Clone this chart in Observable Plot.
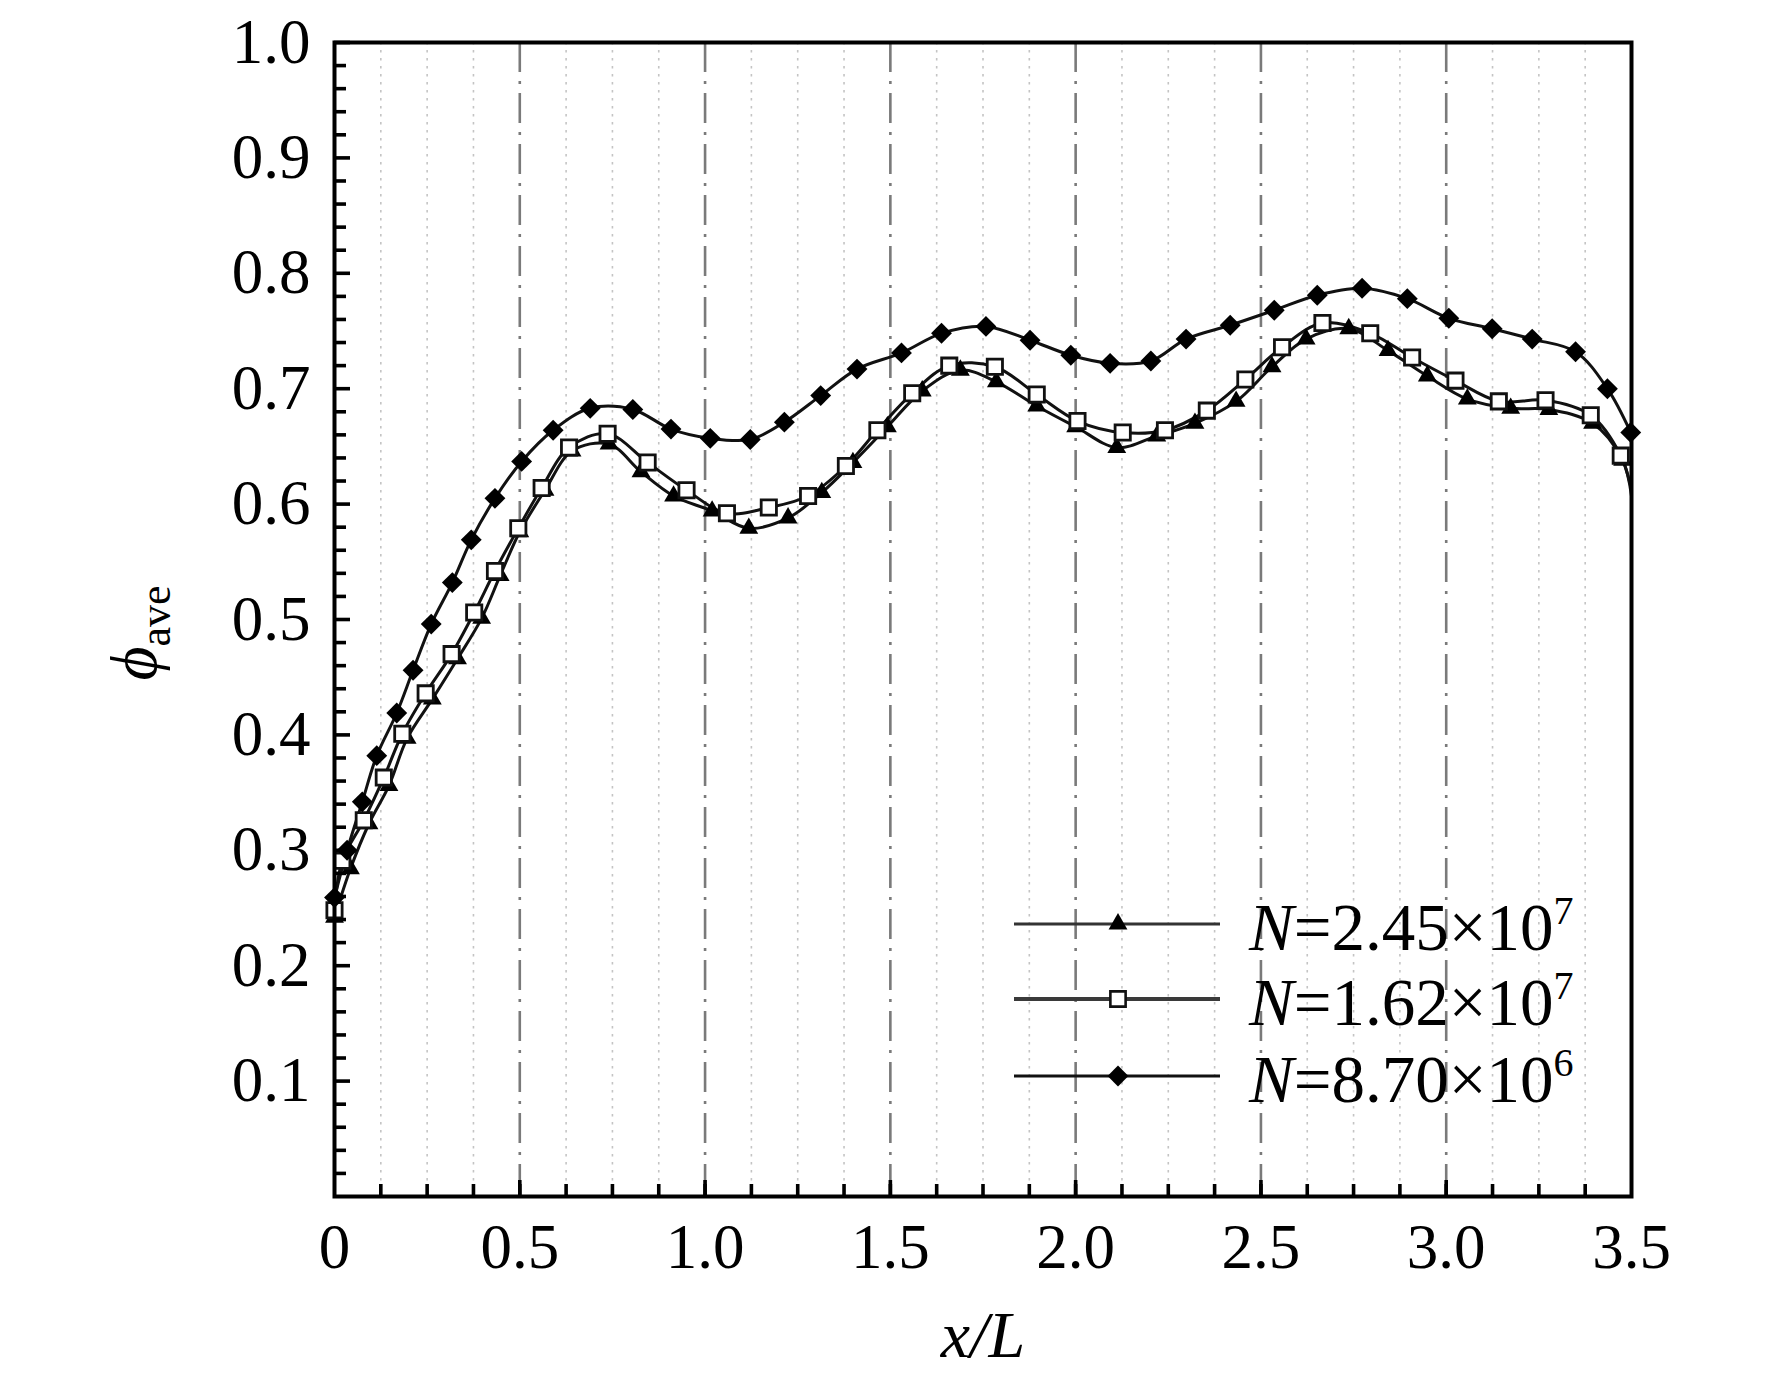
<!DOCTYPE html>
<html>
<head>
<meta charset="utf-8">
<script src="https://cdn.jsdelivr.net/npm/d3@7"></script>
<script src="https://cdn.jsdelivr.net/npm/@observablehq/plot@0.6"></script>
<style>
  html, body { margin: 0; padding: 0; background: #fff; }
  #chart svg { display: block; }
</style>
</head>
<body>
<div id="chart"></div>
<script>
// ---- data ----
const seriesNames = ["N=2.45×10^7", "N=1.62×10^7", "N=8.70×10^6"];

const triX = [0.000, 0.043, 0.093, 0.147, 0.196, 0.264, 0.332, 0.397, 0.447, 0.500, 0.568, 0.641, 0.741, 0.827, 0.915, 1.019, 1.118, 1.224, 1.315, 1.399, 1.492, 1.586, 1.689, 1.786, 1.895, 2.000, 2.111, 2.219, 2.322, 2.433, 2.530, 2.622, 2.737, 2.843, 2.949, 3.057, 3.174, 3.277, 3.395, 3.476];
const triY = [0.242, 0.284, 0.323, 0.356, 0.397, 0.431, 0.466, 0.501, 0.538, 0.576, 0.612, 0.646, 0.652, 0.628, 0.607, 0.594, 0.579, 0.588, 0.610, 0.636, 0.667, 0.698, 0.716, 0.706, 0.685, 0.667, 0.649, 0.659, 0.670, 0.689, 0.719, 0.743, 0.752, 0.733, 0.711, 0.691, 0.683, 0.682, 0.670, 0.638];

const sqX = [0.000, 0.021, 0.079, 0.133, 0.183, 0.246, 0.316, 0.377, 0.433, 0.496, 0.559, 0.633, 0.737, 0.845, 0.950, 1.059, 1.172, 1.278, 1.380, 1.465, 1.559, 1.659, 1.782, 1.895, 2.005, 2.127, 2.241, 2.354, 2.458, 2.557, 2.666, 2.795, 2.908, 3.025, 3.142, 3.268, 3.390, 3.471];
const sqY = [0.248, 0.291, 0.326, 0.363, 0.401, 0.436, 0.470, 0.506, 0.542, 0.579, 0.614, 0.649, 0.661, 0.636, 0.612, 0.592, 0.597, 0.607, 0.633, 0.664, 0.696, 0.720, 0.719, 0.695, 0.672, 0.662, 0.664, 0.681, 0.708, 0.736, 0.757, 0.748, 0.727, 0.707, 0.689, 0.690, 0.677, 0.642];

const diaX = [0.000, 0.034, 0.075, 0.114, 0.168, 0.212, 0.261, 0.318, 0.369, 0.433, 0.505, 0.590, 0.690, 0.805, 0.908, 1.014, 1.122, 1.214, 1.312, 1.410, 1.530, 1.638, 1.758, 1.877, 1.987, 2.093, 2.203, 2.298, 2.417, 2.536, 2.652, 2.773, 2.895, 3.007, 3.124, 3.232, 3.349, 3.435, 3.498];
const diaY = [0.259, 0.300, 0.342, 0.382, 0.419, 0.456, 0.496, 0.532, 0.569, 0.605, 0.637, 0.664, 0.683, 0.682, 0.665, 0.657, 0.656, 0.671, 0.694, 0.717, 0.731, 0.748, 0.754, 0.742, 0.729, 0.722, 0.724, 0.743, 0.755, 0.768, 0.781, 0.787, 0.778, 0.761, 0.752, 0.743, 0.732, 0.700, 0.662];

// where the unmarked line tails end at the right frame (x = 3.5)
const tailX = 3.5;
const tailY = [0.607, 0.612, null];

// ticks and labels
const xMajor = [0, 0.5, 1.0, 1.5, 2.0, 2.5, 3.0, 3.5];
const xLabels = ["0", "0.5", "1.0", "1.5", "2.0", "2.5", "3.0", "3.5"];
const xDashDot = [0.5, 1.0, 1.5, 2.0, 2.5, 3.0];
const xMinor = d3.range(1, 28).map(i => i * 0.125);
const xDotted = xMinor.filter(v => !xMajor.includes(v));
const yMajor = [0.1, 0.2, 0.3, 0.4, 0.5, 0.6, 0.7, 0.8, 0.9, 1.0];
const yLabels = ["0.1", "0.2", "0.3", "0.4", "0.5", "0.6", "0.7", "0.8", "0.9", "1.0"];
const yMinor = d3.range(1, 50).map(i => i / 50).filter(v => !yMajor.some(m => Math.abs(m - v) < 1e-9));

// ---- tables ----
function rows(xs, ys, name, tail) {
  const r = xs.map((x, i) => ({x, y: ys[i], series: name}));
  if (tail != null) r.push({x: tailX, y: tail, series: name});
  return r;
}
const triRows = rows(triX, triY, seriesNames[0]);
const sqRows = rows(sqX, sqY, seriesNames[1]);
const diaRows = rows(diaX, diaY, seriesNames[2]);
const lineRows = [
  ...rows(triX, triY, seriesNames[0], tailY[0]),
  ...rows(sqX, sqY, seriesNames[1], tailY[1]),
  ...rows(diaX, diaY, seriesNames[2], tailY[2])
];

const FONT = "'Liberation Serif', 'Times New Roman', serif";
const W = 1772, H = 1394;
const mL = 334, mR = 141, mT = 42, mB = 198;
const R_TRI = 7, R_SQ = 8.6, R_DIA = 9.4;

const chart = Plot.plot({
  width: W,
  height: H,
  marginLeft: mL,
  marginRight: mR,
  marginTop: mT,
  marginBottom: mB,
  style: {background: "#fff", color: "#000", fontFamily: FONT, overflow: "visible"},
  x: {domain: [0, 3.5]},
  y: {domain: [0, 1]},
  marks: [
    Plot.ruleX(xDotted, {stroke: "#c4c4c4", strokeWidth: 1.6, strokeDasharray: "2.5,5.5"}),
    Plot.ruleX(xDashDot, {stroke: "#7a7a7a", strokeWidth: 2.6, strokeDasharray: "30,9,3,9"}),
    Plot.line(lineRows, {x: "x", y: "y", z: "series", curve: "catmull-rom", stroke: "#111", strokeWidth: 3}),
    Plot.dot(triRows, {x: "x", y: "y", symbol: "triangle", r: R_TRI, fill: "#000", stroke: "none"}),
    Plot.dot(sqRows, {x: "x", y: "y", symbol: "square", r: R_SQ, fill: "#fff", stroke: "#111", strokeWidth: 2.8}),
    Plot.dot(diaRows, {x: "x", y: "y", symbol: "diamond2", r: R_DIA, fill: "#000", stroke: "none"}),
    // inward ticks
    Plot.axisY(yMinor, {anchor: "left", tickSize: 12, dx: 12, tickFormat: () => "", strokeWidth: 3.6, label: null}),
    Plot.axisY(yMajor, {anchor: "left", tickSize: 16, dx: 16, tickFormat: () => "", strokeWidth: 3.6, label: null}),
    Plot.axisX(xMinor, {anchor: "bottom", tickSize: 12, dy: -12, tickFormat: () => "", strokeWidth: 3.6, label: null}),
    Plot.axisX(xMajor.slice(1, -1), {anchor: "bottom", tickSize: 16, dy: -16, tickFormat: () => "", strokeWidth: 3.6, label: null}),
    // tick labels
    Plot.axisY(yMajor, {anchor: "left", tickSize: 0, tickPadding: 24, tickFormat: d => yLabels[yMajor.indexOf(d)], fontSize: 63, label: null}),
    Plot.axisX(xMajor, {anchor: "bottom", tickSize: 0, tickPadding: 27, tickFormat: d => xLabels[xMajor.indexOf(d)], fontSize: 63, label: null}),
    Plot.frame({stroke: "#000", strokeWidth: 4}),
    // x-axis title
    Plot.text(["x/L"], {text: d => d, frameAnchor: "bottom", dy: 160, fontSize: 66, fontStyle: "italic", fill: "#000"})
  ]
});

document.getElementById("chart").appendChild(chart);

// ---- y-axis title with subscript ----
const svg = d3.select(chart);
const yt = svg.append("text")
  .attr("transform", "translate(156,633) rotate(-90)")
  .attr("text-anchor", "middle")
  .attr("font-family", FONT)
  .attr("fill", "#000");
yt.append("tspan").attr("font-size", 66).attr("font-style", "italic").text("ϕ");
yt.append("tspan").attr("font-size", 44).attr("dy", 14).text("ave");

// ---- legend ----
const legY = [924, 999, 1076];
const legSym = [d3.symbolTriangle, d3.symbolSquare, d3.symbolDiamond2];
const legR = [R_TRI, R_SQ, R_DIA];
const legLineW = [2.8, 3.8, 2.8];
const legLineC = ["#333", "#3a3a3a", "#111"];
const g = svg.append("g").attr("font-family", FONT).attr("text-anchor", "start");
seriesNames.forEach((name, i) => {
  const y = legY[i];
  g.append("line").attr("x1", 1014).attr("x2", 1220).attr("y1", y).attr("y2", y)
    .attr("stroke", legLineC[i]).attr("stroke-width", legLineW[i]);
  const p = g.append("path")
    .attr("d", d3.symbol().type(legSym[i]).size(Math.PI * legR[i] * legR[i])())
    .attr("transform", `translate(1118,${y})`);
  if (i === 1) p.attr("fill", "#fff").attr("stroke", "#111").attr("stroke-width", 2.6);
  else p.attr("fill", "#000");
  const [base, exp] = name.split("^");
  const t = g.append("text").attr("x", 1249).attr("y", y + 26).attr("font-size", 67).attr("fill", "#000")
    .attr("text-anchor", "start");
  t.append("tspan").attr("font-style", "italic").text(base.slice(0, 1));
  t.append("tspan").text(base.slice(1));
  t.append("tspan").attr("font-size", 40).attr("dy", -26).text(exp);
});
</script>
</body>
</html>
